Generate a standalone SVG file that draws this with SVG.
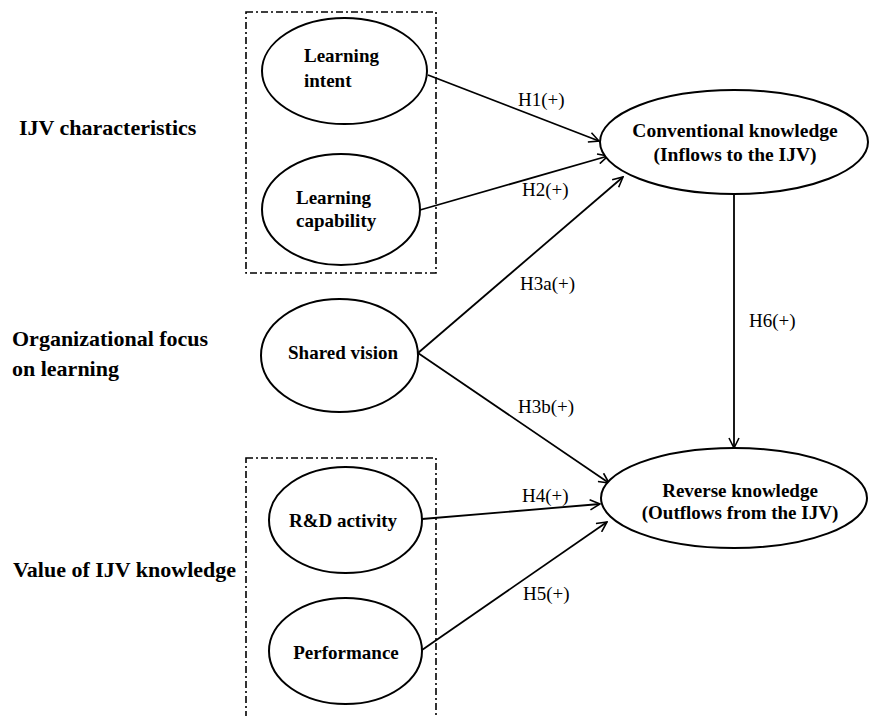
<svg xmlns="http://www.w3.org/2000/svg" width="869" height="716" viewBox="0 0 869 716">
<style>
.bg{fill:#fff}
.node{fill:#fff;stroke:#000;stroke-width:2}
.box{fill:none;stroke:#000;stroke-width:1.6;stroke-dasharray:7 3 2 3}
.t{font-family:"Liberation Serif","Times New Roman",serif;font-weight:bold;font-size:19px;fill:#000}
.lab{font-family:"Liberation Serif","Times New Roman",serif;font-weight:bold;font-size:22px;fill:#000}
.h{font-family:"Liberation Serif","Times New Roman",serif;font-size:19px;fill:#000}
.c{fill:none;stroke:#000;stroke-width:1.8}
</style>
<defs>
<marker id="arr" viewBox="0 0 12 12" refX="11" refY="6" markerWidth="12" markerHeight="12" markerUnits="userSpaceOnUse" orient="auto">
<path d="M1,1 L11,6 L1,11" fill="none" stroke="#000" stroke-width="1.6"/>
</marker>
</defs>
<rect class="bg" x="0" y="0" width="869" height="716"/>
<g id="group-labels">
<text class="lab" x="19" y="135">IJV characteristics</text>
<text class="lab" x="12" y="346">Organizational  focus</text>
<text class="lab" x="12" y="376">on learning</text>
<text class="lab" x="13" y="577">Value of IJV knowledge</text>
</g>
<g id="box-ijv">
<rect class="box" x="246" y="12" width="190" height="261"/>
</g>
<g id="box-value">
<rect class="box" x="246" y="458" width="190" height="270"/>
</g>
<g id="connectors">
<line class="c" x1="428" y1="75" x2="599" y2="141" marker-end="url(#arr)"/>
<line class="c" x1="420" y1="210" x2="608" y2="156" marker-end="url(#arr)"/>
<line class="c" x1="418" y1="353" x2="623" y2="177" marker-end="url(#arr)"/>
<line class="c" x1="418" y1="353" x2="609" y2="483" marker-end="url(#arr)"/>
<line class="c" x1="422" y1="519" x2="600" y2="504" marker-end="url(#arr)"/>
<line class="c" x1="422" y1="650" x2="607" y2="522" marker-end="url(#arr)"/>
<line class="c" x1="734" y1="194" x2="734" y2="448" marker-end="url(#arr)"/>
<text class="h" x="518" y="106">H1(+)</text>
<text class="h" x="522" y="196">H2(+)</text>
<text class="h" x="520" y="290">H3a(+)</text>
<text class="h" x="518" y="413">H3b(+)</text>
<text class="h" x="749" y="327">H6(+)</text>
<text class="h" x="522" y="502">H4(+)</text>
<text class="h" x="523" y="600">H5(+)</text>
</g>
<g id="learning-intent">
<ellipse class="node" cx="344.5" cy="71" rx="82.5" ry="53"/>
<text class="t" x="304" y="62">Learning</text>
<text class="t" x="304" y="87">intent</text>
</g>
<g id="learning-capability">
<ellipse class="node" cx="341" cy="209.5" rx="79" ry="55.5"/>
<text class="t" x="296" y="204">Learning</text>
<text class="t" x="296" y="227">capability</text>
</g>
<g id="shared-vision">
<ellipse class="node" cx="339.5" cy="355.5" rx="78.5" ry="56.5"/>
<text class="t" x="343" y="359" text-anchor="middle">Shared vision</text>
</g>
<g id="rd-activity">
<ellipse class="node" cx="345.5" cy="520" rx="76.5" ry="53"/>
<text class="t" x="343" y="527" text-anchor="middle">R&amp;D activity</text>
</g>
<g id="performance">
<ellipse class="node" cx="345.5" cy="651" rx="76.5" ry="53"/>
<text class="t" x="346" y="659" text-anchor="middle">Performance</text>
</g>
<g id="conventional-knowledge">
<ellipse class="node" cx="734" cy="142" rx="134" ry="52"/>
<text class="t" x="735" y="137" text-anchor="middle" style="font-size:19.5px">Conventional  knowledge</text>
<text class="t" x="735" y="161" text-anchor="middle" style="font-size:19.5px">(Inflows to the IJV)</text>
</g>
<g id="reverse-knowledge">
<ellipse class="node" cx="734" cy="498" rx="133" ry="50"/>
<text class="t" x="740" y="497" text-anchor="middle">Reverse knowledge</text>
<text class="t" x="740" y="519" text-anchor="middle">(Outflows from the IJV)</text>
</g>
</svg>
